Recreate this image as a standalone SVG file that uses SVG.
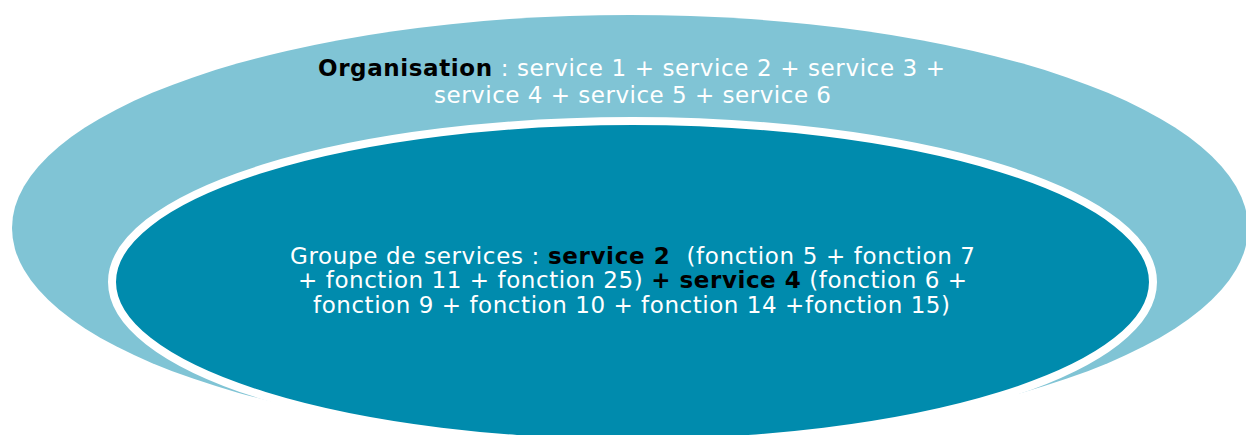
<svg xmlns="http://www.w3.org/2000/svg" width="1246" height="435" viewBox="0 0 1246 435">
  <style>
    .lbl { font-family: "DejaVu Sans", Verdana, sans-serif; font-size: 23px; fill: #ffffff; text-anchor: middle; }
    .b { font-weight: bold; fill: #000000; }
  </style>
  <rect width="1246" height="435" fill="#ffffff"/>
  <!-- outer level: the whole organisation -->
  <g id="organisation">
    <ellipse cx="630" cy="228" rx="618" ry="213" fill="#80c4d5"/>
    <text class="lbl" x="631.5" y="76" textLength="627" lengthAdjust="spacing"><tspan class="b">Organisation</tspan> : service 1 + service 2 + service 3 +</text>
    <text class="lbl" x="632.5" y="103" textLength="397" lengthAdjust="spacing">service 4 + service 5 + service 6</text>
  </g>
  <!-- inner level: the group of services -->
  <g id="groupe">
    <ellipse cx="632.5" cy="282" rx="520.5" ry="161" fill="#008bad" stroke="#ffffff" stroke-width="8"/>
    <text class="lbl" x="632.5" y="264" textLength="685" lengthAdjust="spacing" xml:space="preserve">Groupe de services : <tspan class="b">service 2</tspan>  (fonction 5 + fonction 7</text>
    <text class="lbl" x="632.5" y="288" textLength="669" lengthAdjust="spacing">+ fonction 11 + fonction 25) <tspan class="b">+ service 4</tspan> (fonction 6 +</text>
    <text class="lbl" x="631.5" y="313" textLength="637" lengthAdjust="spacing">fonction 9 + fonction 10 + fonction 14 +fonction 15)</text>
  </g>
  <g id="connectors"/>
</svg>
